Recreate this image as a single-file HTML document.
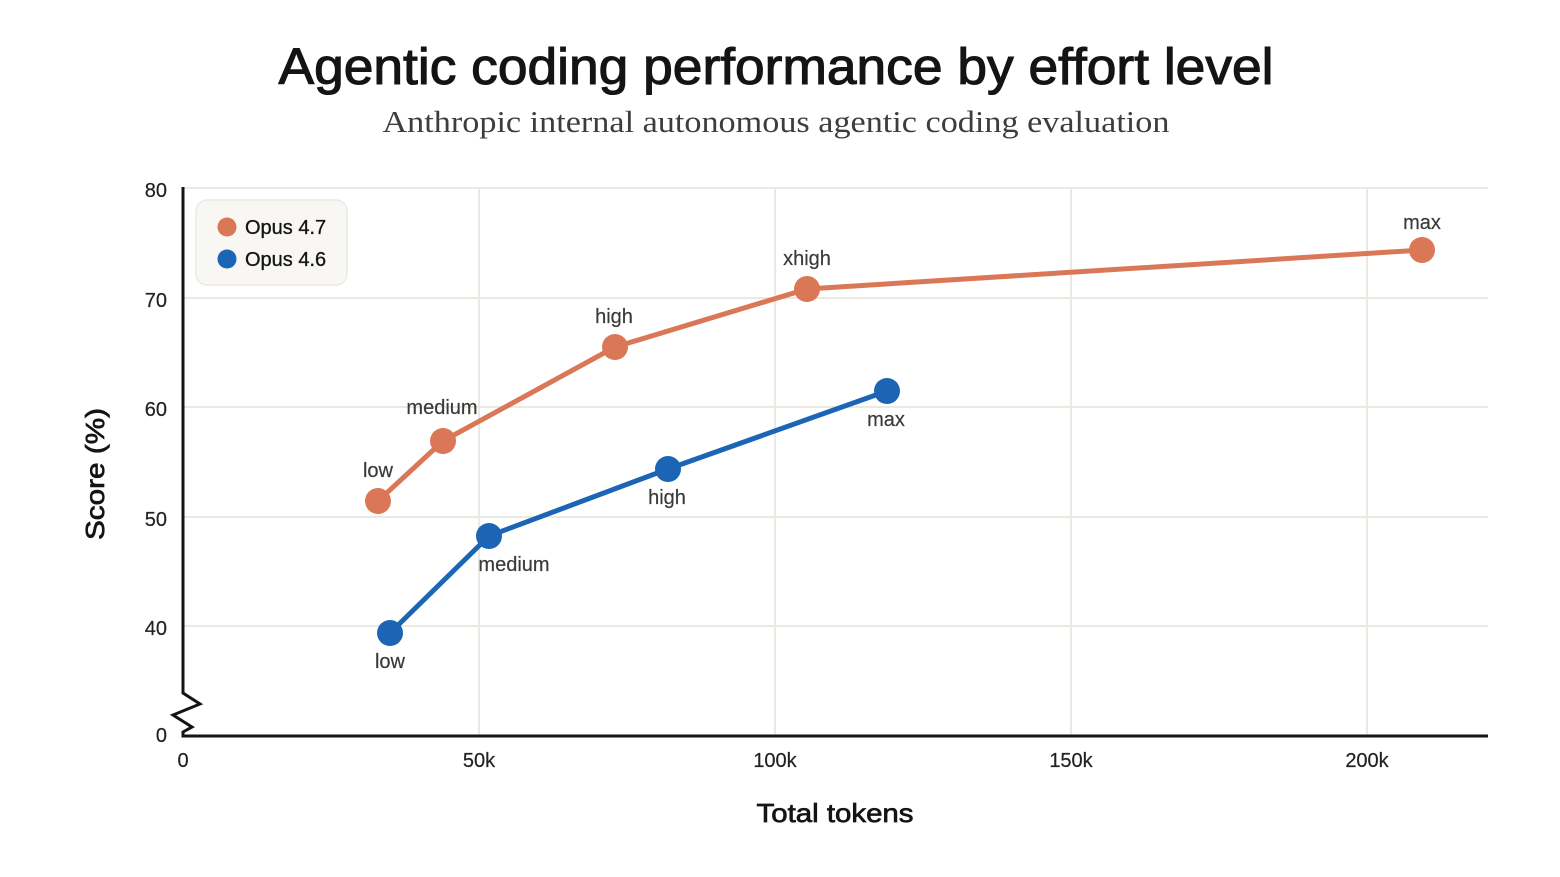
<!DOCTYPE html>
<html>
<head>
<meta charset="utf-8">
<style>
  html, body { margin: 0; padding: 0; background: #ffffff; }
  body { width: 1560px; height: 877px; overflow: hidden; }
  svg { display: block; }
</style>
</head>
<body>
<svg width="1560" height="877" viewBox="0 0 1560 877" xmlns="http://www.w3.org/2000/svg">
  <rect x="0" y="0" width="1560" height="877" fill="#ffffff"/>

  <!-- Title -->
  <text x="776" y="84" text-anchor="middle" font-family="Liberation Sans, sans-serif" font-size="51" fill="#141413" stroke="#141413" stroke-width="1.1" textLength="995" lengthAdjust="spacingAndGlyphs">Agentic coding performance by effort level</text>
  <text x="776" y="132" text-anchor="middle" font-family="Liberation Serif, serif" font-size="31" fill="#3d3d3a" textLength="787" lengthAdjust="spacingAndGlyphs">Anthropic internal autonomous agentic coding evaluation</text>

  <!-- Gridlines -->
  <g stroke="#ebe9e1" stroke-width="2" fill="none">
    <line x1="183" y1="188" x2="1488" y2="188"/>
    <line x1="183" y1="298" x2="1488" y2="298"/>
    <line x1="183" y1="407" x2="1488" y2="407"/>
    <line x1="183" y1="517" x2="1488" y2="517"/>
    <line x1="183" y1="626" x2="1488" y2="626"/>
    <line x1="479" y1="187" x2="479" y2="736"/>
    <line x1="775" y1="187" x2="775" y2="736"/>
    <line x1="1071" y1="187" x2="1071" y2="736"/>
    <line x1="1367" y1="187" x2="1367" y2="736"/>
  </g>

  <!-- Axes -->
  <g stroke="#141413" stroke-width="3" fill="none" stroke-linejoin="miter">
    <polyline points="183,187 183,693 200,704 173,715 192,727 183,732 183,736 1488,736"/>
  </g>

  <!-- Y tick labels -->
  <g font-family="Liberation Sans, sans-serif" font-size="20" fill="#222" stroke="#222" stroke-width="0.2" text-anchor="end">
    <text x="167" y="197">80</text>
    <text x="167" y="307">70</text>
    <text x="167" y="416">60</text>
    <text x="167" y="526">50</text>
    <text x="167" y="635">40</text>
    <text x="167" y="742">0</text>
  </g>

  <!-- X tick labels -->
  <g font-family="Liberation Sans, sans-serif" font-size="20" fill="#222" stroke="#222" stroke-width="0.2" text-anchor="middle">
    <text x="183" y="767">0</text>
    <text x="479" y="767">50k</text>
    <text x="775" y="767">100k</text>
    <text x="1071" y="767">150k</text>
    <text x="1367" y="767">200k</text>
  </g>

  <!-- Axis titles -->
  <text x="835" y="822" text-anchor="middle" font-family="Liberation Sans, sans-serif" font-size="26" fill="#141413" stroke="#141413" stroke-width="0.7" textLength="157" lengthAdjust="spacingAndGlyphs">Total tokens</text>
  <text transform="translate(104,474) rotate(-90)" text-anchor="middle" font-family="Liberation Sans, sans-serif" font-size="26" fill="#141413" stroke="#141413" stroke-width="0.7" textLength="132" lengthAdjust="spacingAndGlyphs">Score (%)</text>

  <!-- Legend -->
  <rect x="196" y="200" width="151" height="85" rx="11" ry="11" fill="#f8f7f3" stroke="#ebe9e1" stroke-width="1.5"/>
  <circle cx="227" cy="227" r="9.5" fill="#d97757"/>
  <circle cx="227" cy="259" r="9.5" fill="#1b65b4"/>
  <g font-family="Liberation Sans, sans-serif" font-size="20" fill="#141413" stroke="#141413" stroke-width="0.3">
    <text x="245" y="234">Opus 4.7</text>
    <text x="245" y="266">Opus 4.6</text>
  </g>

  <!-- Opus 4.7 series -->
  <polyline points="378,501 443,441 615,347 807,289 1422,250" fill="none" stroke="#d97757" stroke-width="5" stroke-linejoin="round" stroke-linecap="round"/>
  <g fill="#d97757">
    <circle cx="378" cy="501" r="13"/>
    <circle cx="443" cy="441" r="13"/>
    <circle cx="615" cy="347" r="13"/>
    <circle cx="807" cy="289" r="13"/>
    <circle cx="1422" cy="250" r="13"/>
  </g>

  <!-- Opus 4.6 series -->
  <polyline points="390,633 489,536 668,469 887,391" fill="none" stroke="#1b65b4" stroke-width="5" stroke-linejoin="round" stroke-linecap="round"/>
  <g fill="#1b65b4">
    <circle cx="390" cy="633" r="13"/>
    <circle cx="489" cy="536" r="13"/>
    <circle cx="668" cy="469" r="13"/>
    <circle cx="887" cy="391" r="13"/>
  </g>

  <!-- Data labels -->
  <g font-family="Liberation Sans, sans-serif" font-size="20" fill="#3a3a38" stroke="#3a3a38" stroke-width="0.2" text-anchor="middle">
    <text x="378" y="477">low</text>
    <text x="442" y="414">medium</text>
    <text x="614" y="323">high</text>
    <text x="807" y="265">xhigh</text>
    <text x="1422" y="229">max</text>

    <text x="390" y="668">low</text>
    <text x="514" y="571">medium</text>
    <text x="667" y="504">high</text>
    <text x="886" y="426">max</text>
  </g>
</svg>
</body>
</html>
